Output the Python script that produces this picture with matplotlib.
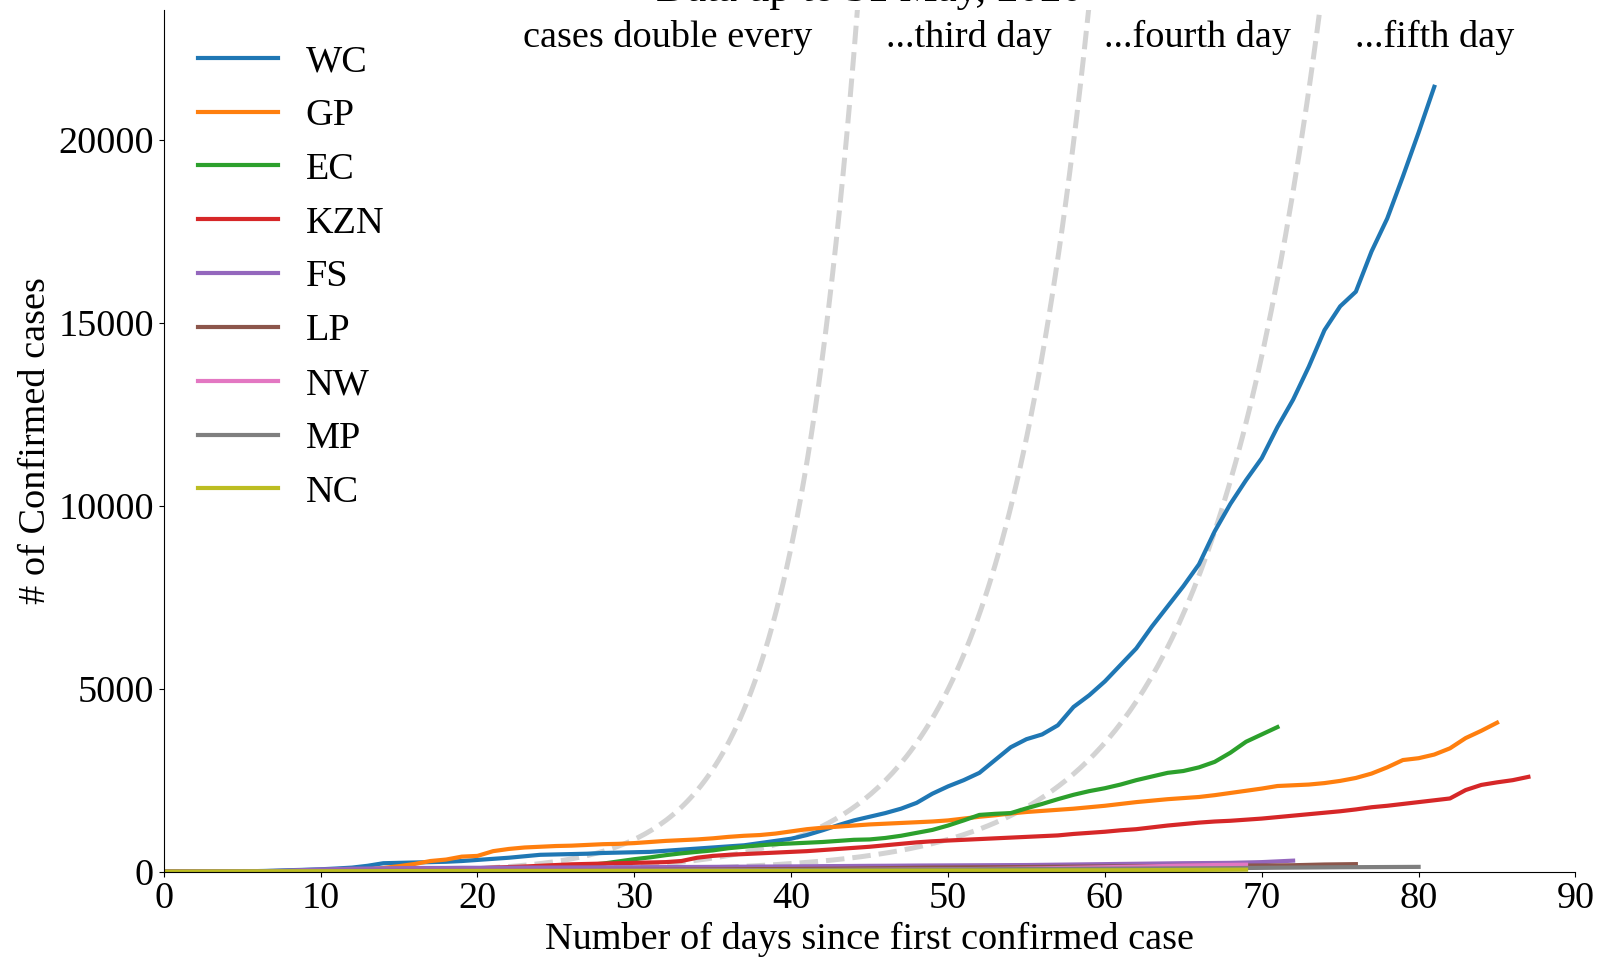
import matplotlib
matplotlib.use("Agg")
import matplotlib.pyplot as plt
import numpy as np

plt.rcParams['font.family'] = ['Liberation Serif', 'DejaVu Serif']
plt.rcParams['font.size'] = 27.5

# cumulative confirmed cases per province, one value per day since its first case
WC = [1, 2, 3, 5, 7, 11, 15, 24, 39, 50, 64, 85, 110, 160, 230, 240, 250, 260, 270, 290,
      320, 350, 380, 420, 460, 470, 480, 490, 510, 520, 530, 540, 570, 600, 630, 660, 690,
      720, 780, 840, 900, 1000, 1130, 1270, 1400, 1500, 1600, 1720, 1880, 2130, 2330, 2500,
      2700, 3050, 3400, 3620, 3750, 4000, 4500, 4820, 5200, 5650, 6100, 6700, 7250, 7800,
      8400, 9300, 10050, 10700, 11300, 12150, 12900, 13800, 14800, 15450, 15850, 16950,
      17850, 19000, 20200, 21450]
GP = [1, 1, 2, 3, 4, 7, 8, 12, 16, 20, 27, 33, 45, 61, 100, 150, 210, 290, 330, 410,
      430, 560, 620, 660, 680, 700, 710, 730, 750, 760, 780, 810, 840, 860, 880, 910, 950,
      980, 1000, 1040, 1100, 1160, 1200, 1230, 1260, 1290, 1310, 1330, 1350, 1370, 1400,
      1450, 1500, 1540, 1590, 1630, 1660, 1690, 1720, 1760, 1800, 1850, 1900, 1940, 1980,
      2010, 2040, 2090, 2150, 2210, 2270, 2340, 2360, 2380, 2420, 2480, 2560, 2680, 2850,
      3050, 3100, 3200, 3370, 3650, 3850, 4070]
EC = [1, 1, 1, 1, 2, 2, 3, 5, 5, 7, 9, 12, 17, 20, 25, 31, 37, 45, 50, 55, 62, 70, 80,
      95, 110, 130, 150, 180, 220, 280, 340, 390, 450, 500, 540, 580, 640, 680, 720, 750,
      770, 790, 810, 840, 870, 880, 920, 980, 1060, 1140, 1260, 1400, 1550, 1580, 1600,
      1730, 1850, 1980, 2100, 2200, 2280, 2380, 2500, 2600, 2700, 2750, 2850, 3000, 3250,
      3550, 3750, 3950]
KZN = [1, 1, 1, 1, 1, 1, 1, 2, 3, 5, 7, 10, 15, 20, 25, 30, 38, 45, 55, 70, 90, 110, 125,
       140, 160, 180, 200, 210, 220, 230, 240, 250, 260, 290, 380, 430, 460, 480, 500, 520,
       540, 560, 590, 620, 650, 680, 720, 760, 800, 830, 850, 870, 890, 910, 930, 950, 970,
       990, 1030, 1060, 1090, 1130, 1160, 1210, 1260, 1300, 1340, 1370, 1390, 1420, 1450,
       1490, 1530, 1570, 1610, 1650, 1700, 1760, 1800, 1850, 1900, 1950, 2000, 2230, 2370,
       2440, 2500, 2590]
FS = [1, 1, 2, 3, 5, 7, 10, 20, 30, 45, 60, 70, 80, 85, 90, 95, 100, 100, 100, 105, 105,
      106, 108, 110, 111, 112, 114, 115, 117, 118, 120, 122, 124, 126, 128, 130, 132, 135,
      138, 140, 143, 146, 150, 152, 155, 158, 160, 163, 166, 168, 170, 172, 174, 176, 178,
      180, 185, 190, 195, 200, 205, 210, 215, 220, 225, 230, 233, 236, 240, 250, 260, 280,
      300]
LP = [1, 1, 1, 2, 3, 5, 7, 8, 10, 12, 15, 17, 20, 22, 23, 24, 25, 25, 26, 27, 28, 30, 32,
      34, 36, 38, 40, 42, 44, 46, 48, 50, 52, 55, 58, 60, 62, 65, 68, 70, 72, 75, 78, 80,
      85, 90, 95, 100, 105, 110, 112, 115, 118, 120, 123, 126, 130, 133, 136, 140, 143,
      146, 150, 152, 155, 158, 160, 162, 164, 166, 168, 170, 175, 185, 195, 200, 205]
NW = [1, 1, 2, 3, 4, 5, 6, 8, 10, 12, 14, 15, 17, 18, 19, 20, 21, 22, 23, 24, 25, 26, 27,
      28, 29, 30, 30, 31, 31, 32, 32, 33, 34, 35, 36, 37, 38, 39, 40, 41, 42, 43, 44, 45,
      47, 49, 51, 54, 57, 60, 64, 68, 72, 76, 80, 85, 90, 98, 105, 112, 120, 128, 136, 145,
      155, 165, 172, 180, 185, 190]
MP = [1, 1, 2, 3, 4, 6, 7, 8, 9, 10, 11, 12, 13, 14, 15, 16, 17, 17, 18, 19, 20, 21, 22,
      23, 24, 25, 26, 27, 28, 29, 30, 31, 32, 33, 34, 35, 36, 37, 38, 39, 40, 42, 44, 46,
      48, 50, 52, 54, 56, 58, 60, 62, 64, 66, 68, 70, 72, 74, 76, 78, 80, 82, 84, 86, 88,
      90, 92, 94, 96, 100, 104, 108, 111, 114, 117, 120, 122, 124, 126, 128, 130]
NC = [1, 1, 2, 3, 4, 5, 6, 7, 8, 9, 10, 11, 12, 13, 14, 15, 16, 16, 16, 16, 16, 16, 16,
      16, 16, 16, 16, 17, 17, 17, 17, 17, 18, 18, 18, 18, 19, 19, 20, 20, 21, 22, 23, 24,
      25, 26, 26, 27, 27, 28, 28, 29, 29, 30, 31, 32, 33, 34, 35, 36, 37, 38, 40, 42, 44,
      46, 48, 50, 52, 54]

provinces = ["WC", "GP", "EC", "KZN", "FS", "LP", "NW", "MP", "NC"]
series = [WC, GP, EC, KZN, FS, LP, NW, MP, NC]

# doubling-time guide curves
doubling_days = [3, 4, 5]
guide_start = 0.86
guide_labels = ["cases double every", "...third day", "...fourth day", "...fifth day"]
guide_label_x = [32.1, 51.3, 65.9, 81.0]
guide_label_y = 22800

fig = plt.figure(figsize=(16.04, 9.57), dpi=100)
ax = fig.add_axes([0.1021, 0.0892, 0.8801, 0.9004])

days = np.linspace(0, 90, 400)
for n in doubling_days:
    ax.plot(days, guide_start * 2 ** (days / n), '--', color='lightgray', lw=3.6, zorder=1)

for name, vals in zip(provinces, series):
    ax.plot(np.arange(len(vals)), vals, lw=3, label=name, zorder=2)

for lab, x in zip(guide_labels, guide_label_x):
    ax.text(x, guide_label_y, lab, ha='center', va='center')

ax.set_xlim(0, 90)
ax.set_ylim(0, 23550)
ax.set_xticks(range(0, 91, 10))
ax.set_yticks(range(0, 20001, 5000))
ax.spines['top'].set_visible(False)
ax.spines['right'].set_visible(False)
ax.set_xlabel("Number of days since first confirmed case")
ax.set_ylabel("# of Confirmed cases")
ax.set_title("Data up to 31 May, 2020", fontsize=31)
ax.legend(loc='upper left', frameon=False, handlelength=2.1, labelspacing=0.5,
          handletextpad=0.72)

fig.savefig("out.png", dpi=100)
